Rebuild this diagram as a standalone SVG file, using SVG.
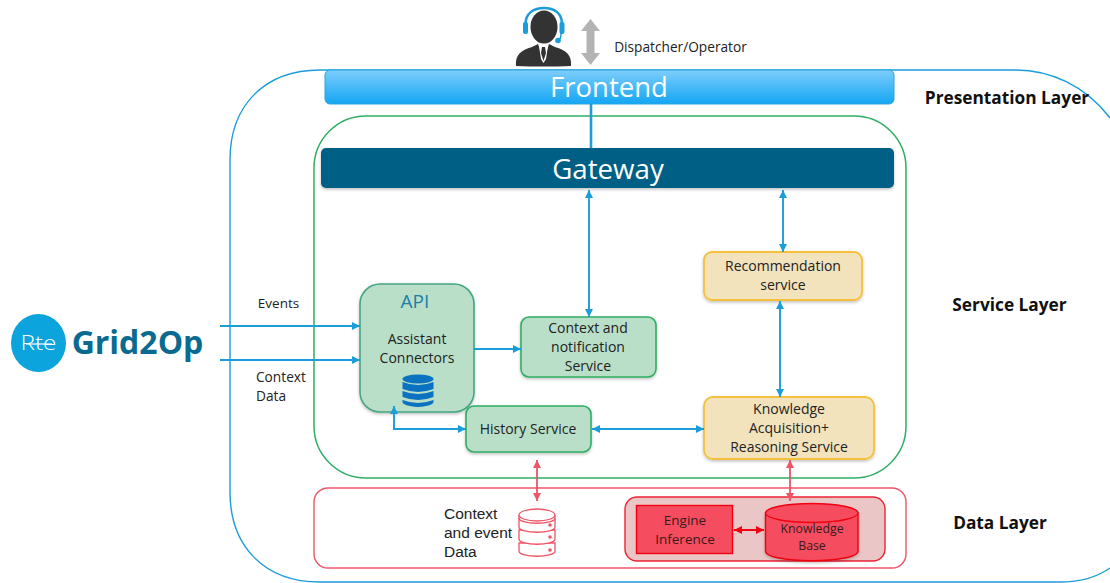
<svg xmlns="http://www.w3.org/2000/svg" width="1110" height="583" viewBox="0 0 1110 583">
<style>
text{font-family:"Open Sans","Liberation Sans",sans-serif;fill:#222;text-anchor:middle}
.l{font-size:14px}
.lay{font-size:17.3px;font-weight:700;fill:#111}
.blue{stroke:#1b9dd9;stroke-width:1.9;fill:none;marker-start:url(#bs);marker-end:url(#be)}
.one{stroke:#1b9dd9;stroke-width:1.9;fill:none;marker-end:url(#be)}
.red{stroke:#ee5566;stroke-width:1.8;fill:none;marker-start:url(#rs);marker-end:url(#re)}
.green{fill:#b9dfc9;stroke:#2fae63;stroke-width:1.6}
.yellow{fill:#f3e3bd;stroke:#f5c13c;stroke-width:1.8}
</style>
<defs>
<linearGradient id="fg" x1="0" y1="0" x2="0" y2="1"><stop offset="0" stop-color="#7dcdfb"/><stop offset="1" stop-color="#14a6f3"/></linearGradient>
<marker id="be" markerWidth="9" markerHeight="8" refX="8" refY="4" orient="auto" markerUnits="userSpaceOnUse"><path d="M0,0L8,4L0,8Z" fill="#1b9dd9"/></marker>
<marker id="bs" markerWidth="9" markerHeight="8" refX="0" refY="4" orient="auto" markerUnits="userSpaceOnUse"><path d="M8,0L0,4L8,8Z" fill="#1b9dd9"/></marker>
<marker id="re" markerWidth="9" markerHeight="8" refX="8" refY="4" orient="auto" markerUnits="userSpaceOnUse"><path d="M0,0L8,4L0,8Z" fill="#ee5566"/></marker>
<marker id="rs" markerWidth="9" markerHeight="8" refX="0" refY="4" orient="auto" markerUnits="userSpaceOnUse"><path d="M8,0L0,4L8,8Z" fill="#ee5566"/></marker>
<marker id="rre" markerWidth="9" markerHeight="8" refX="8" refY="4" orient="auto" markerUnits="userSpaceOnUse"><path d="M0,0L8,4L0,8Z" fill="#f00010"/></marker>
<marker id="rrs" markerWidth="9" markerHeight="8" refX="0" refY="4" orient="auto" markerUnits="userSpaceOnUse"><path d="M8,0L0,4L8,8Z" fill="#f00010"/></marker>
<filter id="sh" x="-5%" y="-10%" width="110%" height="125%"><feDropShadow dx="0" dy="1.5" stdDeviation="1.5" flood-color="#000" flood-opacity=".25"/></filter>
</defs>

<g id="presentation-layer">
<path d="M1110,118C1085,85 1050,70 1015,70H320C265,70 230,105 230,160V492C230,547 265,582 320,582H1060C1085,582 1100,575 1110,568" fill="none" stroke="#1b9dd9" stroke-width="1.4"/>
<text class="lay" x="1007" y="104">Presentation Layer</text>
</g>
<g id="service-layer">
<rect x="314" y="116" width="592" height="362" rx="52" fill="none" stroke="#2fae63" stroke-width="1.5"/>
<text class="lay" x="1009.500" y="311">Service Layer</text>
</g>
<g id="data-layer">
<rect x="314" y="488" width="592" height="80" rx="14" fill="#fff" stroke="#ee5566" stroke-width="1.4"/>
<text class="lay" x="1000" y="529">Data Layer</text>
</g>

<g id="operator">
<path d="M516,66C515,55 521,50 532,47L538,44L543.500,60L549,44L555,47C566,50 572,55 571,66Q543,67 516,66Z" fill="#333"/>
<path d="M539,46L543,43L548,46L546,59L543.500,63L541,59Z" fill="#fff"/>
<path d="M542,47H545L546,53L543.500,61L541,53Z" fill="#333"/>
<ellipse cx="544" cy="27" rx="13.500" ry="16.500" fill="#333"/>
<path d="M525.500,33V24C525.500,13 534,8 544,8C554,8 562,13 562,24V33" fill="none" stroke="#1b9dd9" stroke-width="2.500"/>
<rect x="523" y="22" width="5" height="12" rx="2" fill="#1b9dd9"/><rect x="559.500" y="22" width="5" height="12" rx="2" fill="#1b9dd9"/>
<path d="M561,33Q561,40 558,40" fill="none" stroke="#1b9dd9" stroke-width="1.500"/><circle cx="558" cy="40.500" r="2.800" fill="#1b9dd9"/>
<path d="M590.500,19L600,31H594.500V53H600L590.500,65L581,53H586.500V31H581Z" fill="#b3b3b3"/>
<text x="680.500" y="52" style="font-size:13.700px">Dispatcher/Operator</text>
</g>
<g id="frontend">
<rect x="325" y="70" width="569" height="34" rx="5" fill="url(#fg)" stroke="#2aa5e0" stroke-width="1"/>
<text x="609" y="97" style="font-size:27.500px;fill:#fff">Frontend</text>
</g>
<g id="gateway">
<rect x="321" y="148" width="573" height="40" rx="5" fill="#005f85" filter="url(#sh)"/>
<text x="608" y="179" style="font-size:27.700px;fill:#fff">Gateway</text>
</g>
<g id="grid2op">
<ellipse cx="38.500" cy="343" rx="27.500" ry="29" fill="#0ca4dc"/>
<text x="38.500" y="350" style="font-size:20px;font-weight:300;fill:#fff" textLength="36" lengthAdjust="spacingAndGlyphs">Rte</text>
<path d="M26,344H52" stroke="#fff" stroke-width="1.200"/>
<text x="137.500" y="354" style="font-size:32px;font-weight:700;fill:#0b6a90">Grid2Op</text>
</g>
<g id="api">
<rect x="360" y="284" width="114" height="128" rx="20" class="green" style="stroke:#45a583" filter="url(#sh)"/>
<text x="415" y="308" style="font-size:19px;fill:#1d7ea8">API</text>
<text x="417" y="344" class="l">Assistant</text>
<text x="417" y="363" class="l">Connectors</text>
<g fill="#0a72c0"><ellipse cx="418" cy="379" rx="15.500" ry="4.500"/><path d="M402.500,382V389Q418,395 433.500,389V382Q418,388 402.500,382Z"/><path d="M402.500,391V397Q418,403 433.500,397V391Q418,397 402.500,391Z"/><path d="M402.500,400V402Q403,406 418,407Q433,406 433.500,402V400Q418,406 402.500,400Z"/></g>
</g>
<g id="context-service">
<rect x="521" y="317" width="135" height="60" rx="8" class="green" filter="url(#sh)"/>
<text x="588" y="333" class="l">Context and</text><text x="588" y="352" class="l">notification</text><text x="588" y="371" class="l">Service</text>
</g>
<g id="history-service">
<rect x="466" y="406" width="125" height="46" rx="8" class="green" filter="url(#sh)"/>
<text x="528" y="434" class="l">History Service</text>
</g>
<g id="recommendation-service">
<rect x="704" y="252" width="158" height="48" rx="8" class="yellow" filter="url(#sh)"/>
<text x="783" y="271" class="l">Recommendation</text><text x="783" y="290" class="l">service</text>
</g>
<g id="knowledge-service">
<rect x="704" y="397" width="170" height="62" rx="9" class="yellow" filter="url(#sh)"/>
<text x="789" y="414" class="l">Knowledge</text><text x="789" y="433" class="l">Acquisition+</text><text x="789" y="452" class="l">Reasoning Service</text>
</g>
<g id="context-data">
<text x="444" y="519" style="font-size:15.500px;font-family:'Liberation Sans',sans-serif;text-anchor:start">Context</text>
<text x="444" y="538" style="font-size:15.500px;font-family:'Liberation Sans',sans-serif;text-anchor:start">and event</text>
<text x="444" y="557" style="font-size:15.500px;font-family:'Liberation Sans',sans-serif;text-anchor:start">Data</text>
<g fill="#fff" stroke="#ee5566" stroke-width="1.300">
<path d="M519,543V551C519,558 555,558 555,551V543Z"/><path d="M519,530V539C519,546 555,546 555,539V530Z"/><path d="M519,515V527C519,534 555,534 555,527V515"/><ellipse cx="537" cy="515" rx="18" ry="6"/><path d="M519,518C519,525 555,525 555,518" fill="none"/>
</g>
<g fill="#ee5566"><circle cx="550" cy="525" r="1.800"/><circle cx="550" cy="537" r="1.800"/><circle cx="550" cy="550" r="1.800"/></g>
</g>
<g id="knowledge-store">
<rect x="625" y="497" width="260" height="64" rx="12" fill="#ebc6c6" stroke="#ee2233" stroke-width="1.400"/>
<g id="engine-inference"><rect x="636.500" y="505.500" width="96" height="48" fill="#f54d5f" stroke="#f00010" stroke-width="1.400"/>
<text x="685" y="525" style="font-size:13.500px;fill:#3a1a1a">Engine</text><text x="685" y="544" style="font-size:13.500px;fill:#3a1a1a">Inference</text></g>
<g id="knowledge-base"><path d="M765.500,513V551C765.500,564 858,564 858,551V513Z" fill="#f54d5f" stroke="#f00010" stroke-width="1.400" filter="url(#sh)"/>
<ellipse cx="811.750" cy="513" rx="46.250" ry="9.500" fill="#f54d5f" stroke="#f00010" stroke-width="1.400"/>
<text x="812" y="533" style="font-size:12.300px;fill:#3a1a1a">Knowledge</text><text x="812" y="550" style="font-size:12.300px;fill:#3a1a1a">Base</text></g>
</g>

<g id="connectors">
<path d="M591,104V148" stroke="#1b9dd9" stroke-width="2.600" fill="none"/>
<path class="blue" d="M589,190V317"/>
<path class="blue" d="M783,190V252"/>
<path class="blue" d="M780,301V397"/>
<path class="one" d="M220,326H360"/>
<path class="one" d="M220,360H360"/>
<path class="one" d="M474,349H521"/>
<path class="blue" d="M394,406V429H466"/>
<path class="blue" d="M592,429H704"/>
<path class="red" d="M537,460V501"/>
<path class="red" d="M790,460V501"/>
<path d="M734,530H764" stroke="#f00010" stroke-width="2" fill="none" marker-start="url(#rrs)" marker-end="url(#rre)"/>
</g>
<g id="connector-labels">
<text x="278.500" y="308" style="font-size:13.500px">Events</text>
<text x="256" y="382" style="font-size:13.700px;text-anchor:start">Context</text>
<text x="256" y="401" style="font-size:13.700px;text-anchor:start">Data</text>
</g>
</svg>
